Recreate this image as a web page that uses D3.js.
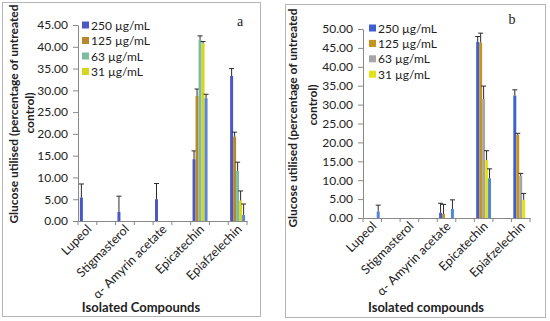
<!DOCTYPE html>
<html><head><meta charset="utf-8">
<script src="https://cdn.jsdelivr.net/npm/d3@7"></script>
<style>body{margin:0;background:#fff}svg{display:block}text{font-family:Lato,"Open Sans",sans-serif;fill:#222}</style>
</head><body><svg id="c" width="550" height="321"></svg>
<script>
const categories = ["Lupeol","Stigmasterol","α- Amyrin acetate","Epicatechin","Epiafzelechin"];
const legendLabels = ["250 µg/mL","125 µg/mL","63 µg/mL","31 µg/mL"];
const yTicksA = [0,5,10,15,20,25,30,35,40,45];
const yTicksB = [0,5,10,15,20,25,30,35,40,45,50];

// Panel a values (5 series per compound) and upper error
const a250 = [5.4, 2.1, 5.0, 14.2, 33.3];
const a125 = [0, 0, 0, 28.7, 19.4];
const a63  = [0, 0, 0, 41.6, 11.5];
const a31  = [0, 0, 0, 40.8, 4.7];
const a16  = [0, 0, 0, 28.2, 1.4];
const aErr250 = [3.1, 3.6, 3.6, 1.9, 1.7];
const aErr125 = [0, 0, 0, 1.6, 1.0];
const aErr63  = [0, 0, 0, 0.9, 2.0];
const aErr31  = [0, 0, 0, 0.4, 2.2];
const aErr16  = [0, 0, 0, 0.9, 2.5];

// Panel b
const b250 = [0, 0, 1.4, 46.6, 32.4];
const b125 = [0, 0, 1.05, 46.4, 22.0];
const b63  = [0, 0, 0, 31.5, 11.1];
const b31  = [0, 0, 0, 15.3, 4.8];
const b16  = [1.7, 0, 2.4, 10.5, 0];
const bErr250 = [0, 0, 2.5, 1.4, 1.5];
const bErr125 = [0, 0, 2.55, 2.5, 0.4];
const bErr63  = [0, 0, 0, 3.4, 0.7];
const bErr31  = [0, 0, 0, 2.5, 1.7];
const bErr16  = [1.7, 0, 2.4, 2.5, 0];

const colorsA = ["#4a58c6","#b8882c","#7dbba2","#d6d61c","#5a86dc"];
const colorsB = ["#3f5fcf","#c4941f","#a6a6a6","#e2e216","#4f86d9"];

const svg = d3.select("#c");

function panel(cfg){
  const g = svg.append("g");
  g.append("rect").attr("x",cfg.box[0]+0.5).attr("y",cfg.box[1]+0.5)
    .attr("width",cfg.box[2]-cfg.box[0]).attr("height",cfg.box[3]-cfg.box[1])
    .attr("fill","none").attr("stroke","#b5b5b5");
  const y = d3.scaleLinear().domain([0, cfg.ymax]).range([cfg.y0, cfg.y1]);
  const slots = d3.scaleBand().domain(d3.range(categories.length*2-1)).range([cfg.x0, cfg.x1]).padding(0);
  const inner = d3.scaleBand().domain(d3.range(cfg.series.length)).range([0, slots.bandwidth()]).paddingInner(0).paddingOuter(0.63);

  const ya = g.append("g").attr("transform",`translate(${cfg.x0},0)`)
    .call(d3.axisLeft(y).tickValues(cfg.yTicks).tickFormat(d3.format(".2f")).tickSize(5).tickSizeOuter(0).tickPadding(5));
  ya.selectAll("path,line").attr("stroke","#888");
  ya.selectAll("text").style("font-size","12px").style("fill","#222").style("font-family","Lato");

  cfg.series.forEach((vals, s) => {
    g.append("g").selectAll("rect").data(vals).join("rect")
      .attr("x",(d,i)=>slots(i*2)+inner(s))
      .attr("width",inner.bandwidth())
      .attr("y",d=>y(d)).attr("height",d=>y(0)-y(d))
      .attr("fill",cfg.colors[s]);
    const err = cfg.errs[s];
    const eg = g.append("g");
    vals.forEach((d,i)=>{
      if(d<=0) return;
      const cx = slots(i*2)+inner(s)+inner.bandwidth()/2;
      eg.append("line").attr("x1",cx).attr("x2",cx).attr("y1",y(d)).attr("y2",y(d+err[i])).attr("stroke","#2a2a2a");
      eg.append("line").attr("x1",cx-2.5).attr("x2",cx+2.5).attr("y1",y(d+err[i])).attr("y2",y(d+err[i])).attr("stroke","#2a2a2a");
    });
  });

  const xa = g.append("g").attr("transform",`translate(0,${cfg.y0})`)
    .call(d3.axisBottom(slots).tickValues([]).tickSizeOuter(0));
  xa.selectAll("path").attr("stroke","#888");
  const bounds = slots.domain().map(d=>slots(d)).concat([cfg.x1]);
  g.append("g").selectAll("line").data(bounds).join("line")
    .attr("x1",d=>d).attr("x2",d=>d).attr("y1",cfg.y0).attr("y2",cfg.y0+4).attr("stroke","#888");

  g.append("g").selectAll("text").data(categories).join("text")
    .attr("transform",(d,i)=>`translate(${slots(i*2)+slots.bandwidth()/2+5},${cfg.y0+9}) rotate(-45)`)
    .attr("text-anchor","end").style("font-size","12.5px").text(d=>d);

  g.append("text").attr("transform",`translate(${cfg.yt1[0]},${cfg.yt1[1]}) rotate(-90)`)
    .attr("text-anchor","middle").attr("dominant-baseline","central").style("font-size","12px").style("font-weight","bold")
    .text("Glucose utilised (percentage of untreated");
  g.append("text").attr("transform",`translate(${cfg.yt2[0]},${cfg.yt2[1]}) rotate(-90)`)
    .attr("text-anchor","middle").attr("dominant-baseline","central").style("font-size","12px").style("font-weight","bold")
    .text("control)");
  g.append("text").attr("x",cfg.xt[0]).attr("y",cfg.xt[1]).attr("text-anchor","middle")
    .style("font-size","13px").style("font-weight","bold").text(cfg.xtitle);

  g.append("text").attr("x",cfg.letter[0]).attr("y",cfg.letter[1]).attr("text-anchor","middle")
    .style("font-family","'Liberation Serif',serif").style("font-size","14px").text(cfg.letterText);

  const lg = g.append("g").attr("transform",`translate(${cfg.legend[0]},${cfg.legend[1]})`);
  legendLabels.forEach((t,i)=>{
    lg.append("rect").attr("x",0).attr("y",i*cfg.legendStep-3.5).attr("width",7).attr("height",7).attr("fill",cfg.colors[i]);
    lg.append("text").attr("x",9).attr("y",i*cfg.legendStep).attr("dominant-baseline","central").style("font-size","12px").text(t);
  });
}

panel({box:[2,2,260,316], x0:78, x1:247, y0:221, y1:25, ymax:45, yTicks:yTicksA,
  series:[a250,a125,a63,a31,a16], errs:[aErr250,aErr125,aErr63,aErr31,aErr16], colors:colorsA,
  yt1:[13.5,114], yt2:[29,113], xt:[141,312], xtitle:"Isolated Compounds",
  letter:[240,26], letterText:"a", legend:[82,25], legendStep:15.5});

panel({box:[285,4,545,317], x0:363, x1:530, y0:218, y1:29, ymax:50, yTicks:yTicksB,
  series:[b250,b125,b63,b31,b16], errs:[bErr250,bErr125,bErr63,bErr31,bErr16], colors:colorsB,
  yt1:[292.5,118], yt2:[312,105], xt:[426,312], xtitle:"Isolated compounds",
  letter:[512,24], letterText:"b", legend:[369,28], legendStep:15.4});
</script></body></html>
